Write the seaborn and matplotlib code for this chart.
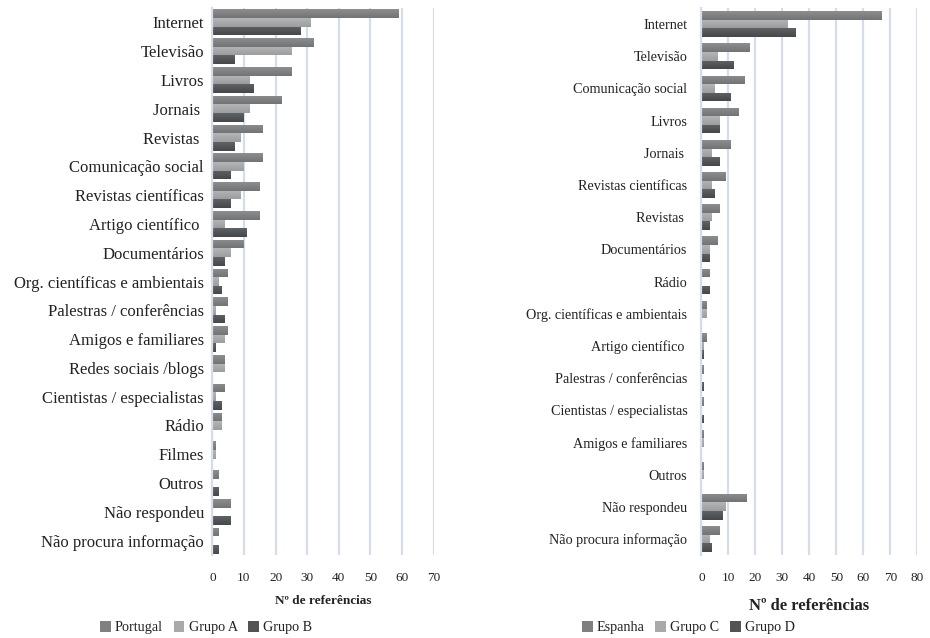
import numpy as np
import pandas as pd
import matplotlib
matplotlib.use("Agg")
import matplotlib.pyplot as plt
import matplotlib.colors as mcolors
import seaborn as sns
from matplotlib.patches import Patch

# Portugal panel
pt_categories = [
    "Internet", "Televisão", "Livros", "Jornais ", "Revistas ",
    "Comunicação social", "Revistas científicas", "Artigo científico ",
    "Documentários", "Org. científicas e ambientais",
    "Palestras / conferências", "Amigos e familiares", "Redes sociais /blogs",
    "Cientistas / especialistas", "Rádio", "Filmes", "Outros",
    "Não respondeu", "Não procura informação",
]
portugal = [59, 32, 25, 22, 16, 16, 15, 15, 10, 5, 5, 5, 4, 4, 3, 1, 2, 6, 2]
grupo_a = [31, 25, 12, 12, 9, 10, 9, 4, 6, 2, 1, 4, 4, 1, 3, 1, 0, 0, 0]
grupo_b = [28, 7, 13, 10, 7, 6, 6, 11, 4, 3, 4, 1, 0, 3, 0, 0, 2, 6, 2]
pt_series = ["Portugal", "Grupo A", "Grupo B"]

# Spain panel
es_categories = [
    "Internet", "Televisão", "Comunicação social", "Livros", "Jornais ",
    "Revistas científicas", "Revistas ", "Documentários", "Rádio",
    "Org. científicas e ambientais", "Artigo científico ",
    "Palestras / conferências", "Cientistas / especialistas",
    "Amigos e familiares", "Outros", "Não respondeu", "Não procura informação",
]
espanha = [67, 18, 16, 14, 11, 9, 7, 6, 3, 2, 2, 1, 1, 1, 1, 17, 7]
grupo_c = [32, 6, 5, 7, 4, 4, 4, 3, 0, 2, 1, 0, 0, 1, 1, 9, 3]
grupo_d = [35, 12, 11, 7, 7, 5, 3, 3, 3, 0, 1, 1, 1, 0, 0, 8, 4]
es_series = ["Espanha", "Grupo C", "Grupo D"]

x_label = "Nº de referências"

shades = ["#7e8082", "#a8a9aa", "#515457"]
# light-to-dark ends of the vertical shading on each bar
shade_ends = [("#8c8e90", "#717375"), ("#b4b5b6", "#9c9d9e"), ("#606366", "#45484a")]
grid_col = "#d5dee8"

sns.set_theme(style="white")
plt.rcParams["font.family"] = ["Liberation Serif", "DejaVu Serif"]


def long_frame(cats, names, values):
    rows = []
    for name, vals in zip(names, values):
        for c, v in zip(cats, vals):
            rows.append({"categoria": c, "serie": name, "valor": v})
    return pd.DataFrame(rows)


def shade_bars(ax, n_cats):
    # seaborn adds the bars series by series, n_cats bars each
    for i, bar in enumerate(list(ax.patches)):
        w = bar.get_width()
        if w <= 0:
            continue
        top_c, bot_c = shade_ends[i // n_cats]
        cmap = mcolors.LinearSegmentedColormap.from_list("s", [top_c, bot_c])
        y0 = bar.get_y()
        h = bar.get_height()
        grad = np.linspace(0, 1, 32).reshape(-1, 1)
        im = ax.imshow(grad, cmap=cmap, aspect="auto", interpolation="bilinear",
                       extent=(bar.get_x(), bar.get_x() + w, y0 + h, y0),
                       zorder=bar.get_zorder() + 0.1)
        im.set_clip_path(bar)


def draw_panel(ax, cats, names, values, xmax, width, cat_size, label_size,
               label_pad, cat_pad, legend_x):
    df = long_frame(cats, names, values)
    sns.barplot(data=df, y="categoria", x="valor", hue="serie", order=cats,
                hue_order=names, palette=shades, orient="h", width=width,
                saturation=1, linewidth=0, ax=ax, legend=False)
    shade_bars(ax, len(cats))
    ax.set_xlim(0, xmax)
    ax.set_ylim(len(cats) - 0.5, -0.5)
    ax.set_xticks(np.arange(0, xmax + 1, 10))
    ax.xaxis.grid(True, color=grid_col, linewidth=1.6)
    ax.yaxis.grid(False)
    ax.set_axisbelow(True)
    for side in ["top", "right", "bottom"]:
        ax.spines[side].set_visible(False)
    ax.spines["left"].set_color(grid_col)
    ax.spines["left"].set_linewidth(1.6)
    ax.tick_params(axis="y", length=0, pad=cat_pad, labelsize=cat_size,
                   labelcolor="#222222")
    ax.tick_params(axis="x", length=0, pad=12, labelsize=9.5, labelcolor="#222222")
    ax.set_ylabel("")
    ax.set_xlabel(x_label, fontsize=label_size, fontweight="bold",
                  color="#222222", labelpad=label_pad)
    handles = [Patch(facecolor=c, edgecolor="none") for c in shades]
    fig.legend(handles, names, loc="center left", bbox_to_anchor=(legend_x, 0.016),
               ncol=3, frameon=False, fontsize=10.2, handlelength=0.75,
               handleheight=0.75, handletextpad=0.3, columnspacing=0.75,
               labelcolor="#222222")


fig = plt.figure(figsize=(9.30, 6.38), dpi=100)
ax1 = fig.add_axes([0.2283, 0.130, 0.2381, 0.8575])
ax2 = fig.add_axes([0.7541, 0.130, 0.2323, 0.8575])

draw_panel(ax1, pt_categories, pt_series, [portugal, grupo_a, grupo_b],
           70, 0.9, 12, 9.5, 8, 6, 0.094)
draw_panel(ax2, es_categories, es_series, [espanha, grupo_c, grupo_d],
           80, 0.8, 10.2, 12, 10, 10, 0.612)

fig.savefig("out.png", dpi=100)
